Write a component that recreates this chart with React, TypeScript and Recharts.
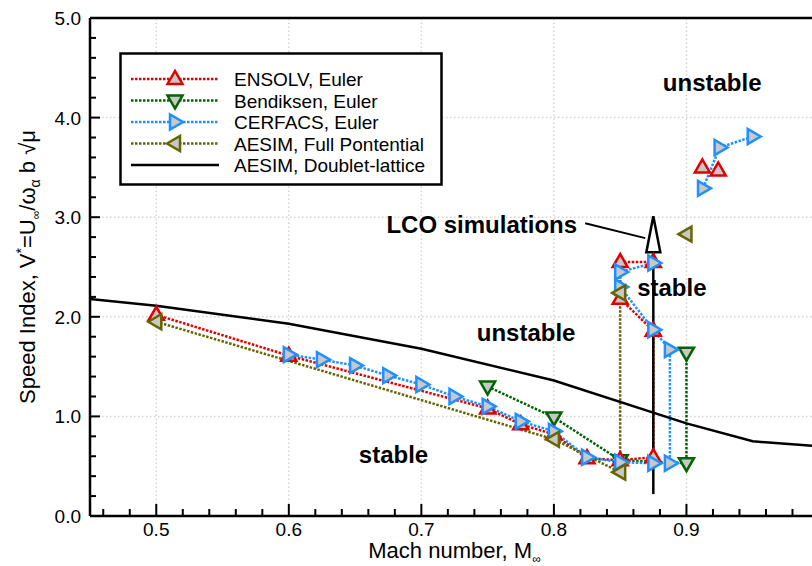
import React from "react";
import {
  LineChart,
  Line,
  XAxis,
  YAxis,
  ReferenceLine,
  ReferenceDot,
  Legend,
} from "recharts";

// AESIM doublet-lattice flutter boundary
const dlMach = [0.45, 0.5, 0.6, 0.7, 0.8, 0.9, 0.95, 1.0];
const dlSpeed = [2.18, 2.11, 1.93, 1.68, 1.36, 0.93, 0.75, 0.7];

// ENSOLV, Euler (null = gap in the line)
const ensolvMach = [0.5, 0.6, 0.75, 0.775, 0.8, 0.825, 0.85, 0.875, 0.875, 0.85, 0.85, 0.875, 0.9, 0.912, 0.918, 0.924];
const ensolvSpeed = [2.02, 1.61, 1.08, 0.92, 0.82, 0.58, 0.56, 0.59, 1.86, 2.18, 2.55, 2.55, null, 3.5, null, 3.47];

// Bendiksen, Euler
const bendMach = [0.75, 0.8, 0.85, 0.9, 0.9];
const bendSpeed = [1.3, 0.99, 0.56, 0.53, 1.64];

// CERFACS, Euler
const cerfMach = [0.6, 0.625, 0.65, 0.675, 0.7, 0.725, 0.75, 0.775, 0.8, 0.825, 0.85, 0.875, 0.8875, 0.8875, 0.875, 0.85, 0.85, 0.875, 0.9, 0.9125, 0.925, 0.95];
const cerfSpeed = [1.62, 1.57, 1.51, 1.41, 1.32, 1.2, 1.1, 0.95, 0.85, 0.59, 0.54, 0.53, 0.53, 1.67, 1.87, 2.3, 2.45, 2.54, null, 3.29, 3.7, 3.81];

// AESIM, Full Potential
const fpMach = [0.5, 0.8, 0.85, 0.85, 0.875, 0.9];
const fpSpeed = [1.95, 0.77, 0.44, 2.24, null, 2.83];

const xTicks = [0.46, 0.48, 0.5, 0.52, 0.54, 0.56, 0.58, 0.6, 0.62, 0.64, 0.66, 0.68, 0.7, 0.72, 0.74, 0.76, 0.78, 0.8, 0.82, 0.84, 0.86, 0.88, 0.9, 0.92, 0.94, 0.96, 0.98];
const yTicks = [0, 0.2, 0.4, 0.6, 0.8, 1, 1.2, 1.4, 1.6, 1.8, 2, 2.2, 2.4, 2.6, 2.8, 3, 3.2, 3.4, 3.6, 3.8, 4, 4.2, 4.4, 4.6, 4.8, 5];
const xGrid = [0.5, 0.6, 0.7, 0.8, 0.9];
const yGrid = [1, 2, 3, 4];

const legendItems = [
  { name: "ENSOLV, Euler", color: "#e00000", marker: "up" },
  { name: "Bendiksen, Euler", color: "#006400", marker: "down" },
  { name: "CERFACS, Euler", color: "#1e90ff", marker: "right" },
  { name: "AESIM, Full Pontential", color: "#666600", marker: "left" },
  { name: "AESIM, Doublet-lattice", color: "#000000", marker: "none" },
];

const zones = [
  { m: 0.9194, v: 4.35, text: "unstable" },
  { m: 0.779, v: 1.84, text: "unstable" },
  { m: 0.889, v: 2.29, text: "stable" },
  { m: 0.679, v: 0.61, text: "stable" },
];

const toPoints = (mach: number[], speed: (number | null)[]) =>
  mach.map((m, i) => ({ m, v: speed[i] }));

const FONT = "'Liberation Sans', Arial, sans-serif";
const DOTTED = "2.5 1.5";

const triPoints = (kind: string, cx: number, cy: number) => {
  if (kind === "up") return `${cx},${cy - 8} ${cx - 7.5},${cy + 5} ${cx + 7.5},${cy + 5}`;
  if (kind === "down") return `${cx},${cy + 8} ${cx - 7.5},${cy - 5} ${cx + 7.5},${cy - 5}`;
  if (kind === "right") return `${cx + 8},${cy} ${cx - 5},${cy - 7.5} ${cx - 5},${cy + 7.5}`;
  return `${cx - 8},${cy} ${cx + 5},${cy - 7.5} ${cx + 5},${cy + 7.5}`;
};

const makeDot = (kind: string, color: string) => (props: any) => {
  const { cx, cy, index, payload } = props;
  if (cx == null || cy == null || payload == null || payload.v == null) return <g key={index} />;
  return (
    <polygon
      key={index}
      points={triPoints(kind, cx, cy)}
      fill="#c8c8c8"
      stroke={color}
      strokeWidth={2.5}
    />
  );
};

const isMajor = (v: number) => Math.abs(v * 10 - Math.round(v * 10)) < 1e-6;
const isInt = (v: number) => Math.abs(v - Math.round(v)) < 1e-6;

const XTick = (props: any) => {
  const { x, y, payload } = props;
  const major = isMajor(payload.value);
  return (
    <g>
      <line x1={x} x2={x} y1={y} y2={y - (major ? 12 : 7)} stroke="#000" strokeWidth={2} />
      {major && (
        <text x={x} y={y + 20} textAnchor="middle" fontSize={19} fontFamily={FONT} fill="#000">
          {payload.value.toFixed(1)}
        </text>
      )}
    </g>
  );
};

const YTick = (props: any) => {
  const { x, y, payload } = props;
  const major = isInt(payload.value);
  return (
    <g>
      <line x1={x} x2={x + (major ? 10 : 6)} y1={y} y2={y} stroke="#000" strokeWidth={2} />
      {major && (
        <text x={x - 9} y={y + 7} textAnchor="end" fontSize={19} fontFamily={FONT} fill="#000">
          {payload.value.toFixed(1)}
        </text>
      )}
    </g>
  );
};

const YTitle = (props: any) => {
  const { viewBox } = props;
  const x = viewBox.x + 35;
  const y = viewBox.y + viewBox.height / 2;
  return (
    <text
      x={x}
      y={y}
      transform={`rotate(-90 ${x} ${y})`}
      textAnchor="middle"
      fontSize={22}
      fontFamily={FONT}
      fill="#000"
    >
      Speed Index, V
      <tspan dy={-9} fontSize={14}>*</tspan>
      <tspan dy={9}>=U</tspan>
      <tspan dy={5} fontSize={12}>∞</tspan>
      <tspan dy={-5}>/ω</tspan>
      <tspan dy={5} fontSize={14}>α</tspan>
      <tspan dy={-5}> b √μ</tspan>
    </text>
  );
};

const XTitle = (props: any) => {
  const { viewBox } = props;
  const x = viewBox.x + viewBox.width / 2;
  const y = viewBox.y + 42;
  return (
    <text x={x} y={y} textAnchor="middle" fontSize={22} fontFamily={FONT} fill="#000">
      Mach number, M
      <tspan dy={5} fontSize={12}>∞</tspan>
    </text>
  );
};

const LegendBox = () => (
  <svg width={324} height={134}>
    <rect x={1.5} y={1.5} width={321} height={131} fill="#fff" stroke="#000" strokeWidth={2.5} />
    {legendItems.map((it, i) => {
      const cy = 27 + i * 21.5;
      return (
        <g key={it.name}>
          <line
            x1={12}
            x2={100}
            y1={cy}
            y2={cy}
            stroke={it.color}
            strokeWidth={2.5}
            strokeDasharray={it.marker === "none" ? undefined : DOTTED}
          />
          {it.marker !== "none" && (
            <polygon points={triPoints(it.marker, 56, cy)} fill="#c8c8c8" stroke={it.color} strokeWidth={2.5} />
          )}
          <text x={115} y={cy + 7} fontSize={19} fontFamily={FONT} fill="#000">
            {it.name}
          </text>
        </g>
      );
    })}
  </svg>
);

const seriesLine = (key: string, mach: number[], speed: (number | null)[], color: string, kind: string) => (
  <Line
    key={key}
    data={toPoints(mach, speed)}
    dataKey="v"
    type="linear"
    stroke={color}
    strokeWidth={2.5}
    strokeDasharray={DOTTED}
    dot={makeDot(kind, color)}
    activeDot={false}
    isAnimationActive={false}
  />
);

export default function App() {
  return (
    <div style={{ position: "absolute", left: 0, top: 0, width: 812, height: 566, overflow: "hidden" }}>
      <LineChart width={820} height={566} margin={{ top: 18, right: 1, bottom: 0, left: 0 }}>
        <XAxis
          dataKey="m"
          type="number"
          domain={[0.45, 1.0]}
          ticks={xTicks}
          interval={0}
          allowDataOverflow
          height={50}
          tickSize={0}
          tickMargin={0}
          tickLine={false}
          axisLine={{ stroke: "#000", strokeWidth: 2.5 }}
          tick={<XTick />}
          label={{ content: <XTitle /> } as any}
        />
        <YAxis
          type="number"
          domain={[0, 5]}
          ticks={yTicks}
          interval={0}
          allowDataOverflow
          width={90}
          tickSize={0}
          tickMargin={0}
          tickLine={false}
          axisLine={{ stroke: "#000", strokeWidth: 2.5 }}
          tick={<YTick />}
          label={{ content: <YTitle /> } as any}
        />
        {xGrid.map((m) => (
          <ReferenceLine key={`gx${m}`} x={m} stroke="#d4d4d4" strokeWidth={1.5} strokeDasharray="1.5 2.5" />
        ))}
        {yGrid.map((v) => (
          <ReferenceLine key={`gy${v}`} y={v} stroke="#d4d4d4" strokeWidth={1.5} strokeDasharray="1.5 2.5" />
        ))}
        <ReferenceLine y={5} stroke="#000" strokeWidth={2.5} ifOverflow="visible" />

        {zones.map((z, i) => (
          <ReferenceDot
            key={`z${i}`}
            x={z.m}
            y={z.v}
            r={0}
            shape={(p: any) => (
              <text x={p.cx} y={p.cy + 8} textAnchor="middle" fontSize={24} fontWeight="bold" fontFamily={FONT} fill="#000">
                {z.text}
              </text>
            )}
          />
        ))}

        {seriesLine("bend", bendMach, bendSpeed, "#006400", "down")}
        {seriesLine("ensolv", ensolvMach, ensolvSpeed, "#e00000", "up")}
        {seriesLine("cerf", cerfMach, cerfSpeed, "#1e90ff", "right")}
        {seriesLine("fp", fpMach, fpSpeed, "#666600", "left")}
        <Line
          data={toPoints(dlMach, dlSpeed)}
          dataKey="v"
          type="linear"
          stroke="#000"
          strokeWidth={2.5}
          dot={false}
          activeDot={false}
          isAnimationActive={false}
        />

        {/* LCO simulations arrow */}
        <ReferenceLine
          segment={[{ x: 0.875, y: 0.22 }, { x: 0.875, y: 2.66 }]}
          stroke="#000"
          strokeWidth={2.5}
        />
        <ReferenceDot
          x={0.875}
          y={3.01}
          r={0}
          shape={(p: any) => (
            <polygon
              points={`${p.cx},${p.cy} ${p.cx - 7},${p.cy + 36} ${p.cx + 7},${p.cy + 36}`}
              fill="#fff"
              stroke="#000"
              strokeWidth={2.5}
            />
          )}
        />
        <ReferenceLine
          segment={[{ x: 0.8236, y: 2.94 }, { x: 0.8689, y: 2.79 }]}
          stroke="#000"
          strokeWidth={2}
        />
        <ReferenceDot
          x={0.8175}
          y={2.92}
          r={0}
          shape={(p: any) => (
            <text x={p.cx} y={p.cy + 8} textAnchor="end" fontSize={24} fontWeight="bold" fontFamily={FONT} fill="#000">
              LCO simulations
            </text>
          )}
        />

        <Legend
          layout="vertical"
          align="center"
          verticalAlign="middle"
          wrapperStyle={{ left: 119, top: 52, width: 324, height: 134 }}
          content={<LegendBox />}
        />
      </LineChart>
    </div>
  );
}
